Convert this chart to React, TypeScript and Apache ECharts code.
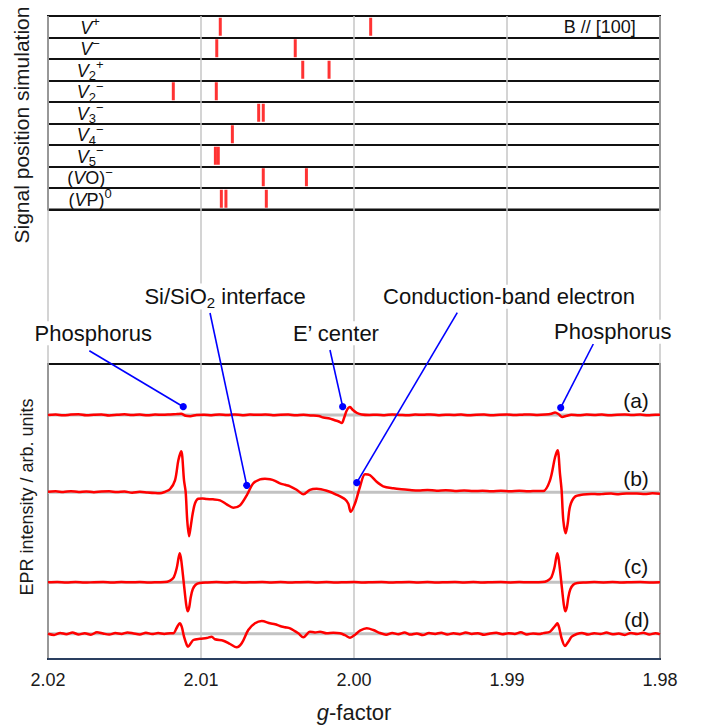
import React, { useEffect, useRef } from 'react';
import * as echarts from 'echarts';

const FONT = '"Liberation Sans", Arial, Helvetica, sans-serif';

// ---------- Top panel: simulated signal positions ----------
const rowLabels = ['V+', 'V−', 'V2+', 'V2−', 'V3−', 'V4−', 'V5−', '(VO)−', '(VP)0'];
// label pieces: [text, kind] with kind v = italic, n = normal, sub, sup
const rowTokens: string[][][] = [
  [['V', 'v'], ['+', 'sup']],
  [['V', 'v'], ['−', 'sup']],
  [['V', 'v'], ['2', 'sub'], ['+', 'sup']],
  [['V', 'v'], ['2', 'sub'], ['−', 'sup']],
  [['V', 'v'], ['3', 'sub'], ['−', 'sup']],
  [['V', 'v'], ['4', 'sub'], ['−', 'sup']],
  [['V', 'v'], ['5', 'sub'], ['−', 'sup']],
  [['(', 'n'], ['V', 'v'], ['O)', 'n'], ['−', 'sup']],
  [['(', 'n'], ['V', 'v'], ['P)', 'n'], ['0', 'sup']],
];
const signalPositions: number[][] = [
  [2.00874, 1.99891],
  [2.00897, 2.00384],
  [2.00335, 2.00163],
  [2.01181, 2.009],
  [2.00623, 2.00593],
  [2.00795],
  [2.00906, 2.00887],
  [2.00593, 2.00311],
  [2.00867, 2.00837, 2.00573],
];
const fieldNote = 'B // [100]';

// ---------- Bottom panel: EPR spectra (g, intensity relative to baseline) ----------
const xTicks = [1.98, 1.99, 2.0, 2.01, 2.02];
const traceNames = ['(a)', '(b)', '(c)', '(d)'];
const traceOffsets = [244, 166.7, 76.7, 25.3];

const traceA: number[][] = [
  [2.02, 0], [2.0195, 0.5], [2.019, -0.3], [2.0185, 0.4], [2.018, 0.8], [2.0175, -0.2], [2.017, 0.3], [2.0165, 0.6],
  [2.016, -0.4], [2.0155, 0.2], [2.015, 0.7], [2.0145, 0], [2.014, 0.4], [2.0135, -0.3], [2.013, 0.5], [2.0125, 0.2],
  [2.012, 0.6], [2.0116, 0.9], [2.0113, 1.2], [2.011, -0.8], [2.0107, -1.2], [2.0103, 0], [2.0098, 0.3], [2.0093, -0.2],
  [2.0088, 0.5], [2.0083, 0.1], [2.0078, 0.6], [2.0073, -0.3], [2.0068, 0.4], [2.0063, 0.2], [2.0058, 0.5], [2.0053, -0.2],
  [2.0048, 0.3], [2.0043, 0.4], [2.0038, -0.3], [2.0033, 0.2], [2.0028, -0.4], [2.0023, -1.0], [2.002, -2.5], [2.0016, -3.5],
  [2.0013, -5], [2.001, -6.5], [2.0008, -8], [2.00065, -3], [2.00046, 5], [2.00026, 8], [2.00007, 5], [1.9998, 2],
  [1.9995, 0.5], [1.999, 0], [1.9985, 0.3], [1.998, -0.2], [1.9975, 0.5], [1.997, 0.1], [1.9965, -0.3], [1.996, 0.4],
  [1.9955, 0.2], [1.995, 0.6], [1.9945, -0.2], [1.994, 0.3], [1.9935, 0], [1.993, 0.5], [1.9925, -0.3], [1.992, 0.2],
  [1.9915, 0.4], [1.991, -0.2], [1.9905, 0.3], [1.99, 0.5], [1.9895, -0.1], [1.989, 0.3], [1.9885, 0.6], [1.988, 0],
  [1.9875, 0.4], [1.9871, 1.2], [1.98686, 2.5], [1.9866, 0.5], [1.9864, -2.0], [1.9861, -0.8], [1.9858, 0.2], [1.9853, -0.2],
  [1.9848, 0.4], [1.9843, 0.1], [1.9838, 0.5], [1.9833, -0.3], [1.9828, 0.3], [1.9823, 0.6], [1.9818, 0], [1.9813, 0.4],
  [1.9808, -0.2], [1.9803, 0.3], [1.98, 0.2],
];

const traceB: number[][] = [
  [2.02, 0.6], [2.0195, 1.0], [2.019, 0.3], [2.0185, 1.1], [2.018, 0.4], [2.0175, 0.9], [2.017, 0.1], [2.0165, 0.8],
  [2.016, 1.0], [2.0155, 0.3], [2.015, 0.7], [2.0145, -0.4], [2.014, 0.5], [2.0135, -0.2], [2.013, -0.8], [2.01268, -1],
  [2.01235, 0.5], [2.01203, 3], [2.0117, 12], [2.01148, 32], [2.01129, 41], [2.01111, 12], [2.011, 0], [2.0109, -28],
  [2.01078, -44], [2.01067, -34], [2.01054, -21], [2.01039, -11], [2.01018, -6.5], [2.0099, -6.2], [2.00963, -6.8],
  [2.00922, -7], [2.00876, -8], [2.00832, -12], [2.00789, -15.5], [2.00745, -13], [2.00701, -3], [2.00658, 9],
  [2.00614, 13], [2.00582, 13.5], [2.00549, 13], [2.00516, 11.5], [2.00484, 9], [2.00451, 7.5], [2.00418, 6],
  [2.00375, 2.5], [2.00331, -2], [2.00288, 2.5], [2.00244, 3.5], [2.00178, 1.5], [2.00113, -2.5], [2.00059, -7],
  [2.00037, -11.5], [2.00022, -19.5], [1.99993, -11], [1.99961, 5.5], [1.99928, 18], [1.99895, 17], [1.99852, 10.5],
  [1.99809, 6], [1.99743, 4], [1.9969, 3.0], [1.99634, 2.3], [1.9958, 1.8], [1.9952, 2.4], [1.9946, 1.6], [1.994, 2.0],
  [1.9934, 1.4], [1.9928, 1.9], [1.9922, 1.2], [1.9916, 1.6], [1.991, 1.0], [1.9904, 1.5], [1.9898, 1.1], [1.9892, 1.6],
  [1.9886, 1.0], [1.988, 1.4], [1.98763, 1.3], [1.98719, 12], [1.98686, 35], [1.98669, 42], [1.98654, 19], [1.98643, 2],
  [1.98632, -28], [1.98616, -41], [1.98603, -31], [1.98588, -14], [1.98556, -4.5], [1.98501, -2.2], [1.9845, -1.6],
  [1.984, -2.0], [1.98371, -1.7], [1.9832, -1.3], [1.9827, -1.9], [1.9822, -1.2], [1.98152, -1.2], [1.981, -1.7],
  [1.9805, -1.0], [1.98, -1.4],
];

const traceC: number[][] = [
  [2.02, 0], [2.0194, 0.3], [2.0188, -0.2], [2.0182, 0.2], [2.0176, -0.3], [2.017, 0.1], [2.0164, 0.3], [2.0158, -0.2],
  [2.0152, 0.2], [2.0146, 0], [2.014, 0.3], [2.0134, -0.2], [2.0128, 0.1], [2.01237, 0.2], [2.01205, 1.5], [2.01178, 5],
  [2.01159, 14], [2.01146, 25], [2.01139, 29], [2.01129, 22], [2.01113, 0], [2.01097, -22], [2.01087, -29], [2.01077, -25],
  [2.01067, -15], [2.01054, -7], [2.01035, -2.5], [2.01008, -0.8], [2.0096, -0.2], [2.009, 0.2], [2.0084, -0.1],
  [2.0078, 0.3], [2.0072, -0.2], [2.0066, 0.1], [2.006, 0.3], [2.0054, -0.1], [2.0048, 0.2], [2.0042, -0.2], [2.0036, 0.1],
  [2.003, 0.3], [2.0024, -0.1], [2.0018, 0.2], [2.0012, -0.2], [2.0006, 0.1], [2.0, 0.3], [1.9994, -0.2], [1.9988, 0.1],
  [1.9982, 0.2], [1.9976, -0.2], [1.997, 0.1], [1.9964, 0.3], [1.9958, -0.1], [1.9952, 0.2], [1.9946, -0.2], [1.994, 0.1],
  [1.9934, 0.3], [1.9928, -0.1], [1.9922, 0.2], [1.9916, -0.2], [1.991, 0.1], [1.9904, 0.2], [1.9898, -0.1], [1.9892, 0.2],
  [1.9886, 0], [1.988, 0.1], [1.98769, 0.2], [1.98737, 1.5], [1.9871, 5], [1.98691, 14], [1.98678, 25], [1.98671, 29],
  [1.98661, 22], [1.98645, 0], [1.98629, -22], [1.98619, -29], [1.98609, -25], [1.98599, -15], [1.98586, -7],
  [1.98567, -2.5], [1.9854, -0.8], [1.9849, -0.2], [1.9843, 0.2], [1.9837, -0.1], [1.9831, 0.2], [1.9825, -0.2],
  [1.9819, 0.1], [1.9813, 0.2], [1.9807, -0.1], [1.98, 0.1],
];

const traceD: number[][] = [
  [2.02, 0], [2.0196, -1.2], [2.0192, 0.8], [2.0188, -0.5], [2.0184, 1.2], [2.018, -0.8], [2.0176, 0.5], [2.0172, -1.0],
  [2.0168, 1.5], [2.0164, 0.2], [2.016, -0.9], [2.0156, 0.6], [2.0152, -0.3], [2.0148, 1.3], [2.0144, 0.2], [2.014, -0.7],
  [2.0136, 1.0], [2.0132, -0.4], [2.0128, 0.6], [2.0124, -0.2], [2.012, 0.4], [2.01181, 0.4], [2.01155, 7], [2.01139, 10.4],
  [2.01126, 7], [2.01111, -3], [2.01093, -11.3], [2.01085, -13], [2.01067, -9.6], [2.0105, -6.3], [2.01007, -5],
  [2.00963, -4.3], [2.0093, -3], [2.00909, -5.6], [2.00854, -7], [2.0081, -10.3], [2.00767, -13.6], [2.00734, -9.6],
  [2.00691, 3.7], [2.00647, 10.4], [2.00603, 12.7], [2.00549, 10.4], [2.00516, 9.5], [2.00484, 7.7], [2.00451, 6.5],
  [2.00418, 5.4], [2.00364, 0.4], [2.00331, -3.6], [2.00288, 2], [2.00255, 1.2], [2.00222, 2], [2.00178, 0.4],
  [2.00135, 1], [2.00092, 0.4], [2.00059, -1.5], [2.00026, -4], [1.99993, -1], [1.99961, 3], [1.99917, 5.4],
  [1.99874, 3.7], [1.9983, 0.7], [1.9979, -1.0], [1.9975, 0.8], [1.9971, -0.6], [1.9967, 1.2], [1.9963, -0.9],
  [1.9959, 0.3], [1.9955, -1.4], [1.9951, 0.6], [1.9947, -0.2], [1.9943, 1.0], [1.9939, -0.8], [1.9935, 0.4],
  [1.9931, -0.5], [1.9927, 1.3], [1.9923, -0.3], [1.9919, 0.5], [1.9915, -1.1], [1.9911, 0.2], [1.9907, 0.9],
  [1.9903, -0.6], [1.9899, 0.4], [1.9895, -0.2], [1.9891, 1.4], [1.9887, -0.7], [1.9883, 0.3], [1.9879, -0.4],
  [1.98763, 0.6], [1.98719, 2], [1.98686, 7.7], [1.98671, 10.4], [1.98658, 5.4], [1.98643, -4.6], [1.98621, -12.3],
  [1.98599, -8], [1.98577, -3], [1.98544, -0.3], [1.9851, 0.8], [1.9847, -0.9], [1.9843, 0.5], [1.9839, -0.4],
  [1.9835, 1.1], [1.9831, -0.6], [1.9827, 0.2], [1.9823, -1.2], [1.9819, 0.7], [1.9815, -0.3], [1.9811, 1.0],
  [1.9807, -0.8], [1.9803, 0.4], [1.98, -0.5],
];

const traces = [traceA, traceB, traceC, traceD];

// annotation texts
const annotationTexts = ['Phosphorus', 'Si/SiO2 interface', 'E’ center', 'Conduction-band electron', 'Phosphorus'];
// anchors in data units: [text g, text v, line start g, line start v, dot g, dot v]
const annotationAnchors = [
  [2.01704, 325.7, 2.0173, 308.3, 2.01116, 252.3],
  [2.00843, 362.5, 2.00941, 346, 2.00701, 173.7],
  [2.00118, 325.7, 2.00157, 309, 2.00074, 252.3],
  [1.98987, 362.3, 1.99325, 346.3, 1.99982, 176.3],
  [1.98309, 327.3, 1.98436, 315, 1.98649, 251.3],
];
const traceLabelAnchors = [
  [1.98157, 258.2],
  [1.98157, 180.7],
  [1.98157, 92.3],
  [1.98152, 39.8],
];
const rowLabelG = 2.01725;
const fieldNoteG = 1.98394;

const X_MIN = 1.98;
const X_MAX = 2.02;
const Y_MAX = 295;

const tokenFont: Record<string, string> = {
  v: `italic 18px ${FONT}`,
  n: `18px ${FONT}`,
  sub: `13px ${FONT}`,
  sup: `13px ${FONT}`,
};
const tokenDy: Record<string, number> = { v: 0, n: 0, sub: 5, sup: -6 };

let measureCtx: CanvasRenderingContext2D | null = null;
function measure(text: string, font: string): number {
  if (!measureCtx) measureCtx = document.createElement('canvas').getContext('2d');
  if (!measureCtx) return text.length * 10;
  measureCtx.font = font;
  return measureCtx.measureText(text).width;
}

export default function App() {
  const ref = useRef<HTMLDivElement>(null);
  useEffect(() => {
    document.body.style.margin = '0';
    if (!ref.current) return;
    const chart = echarts.init(ref.current, undefined, { renderer: 'svg' });

    const baseX = {
      type: 'value',
      min: X_MIN,
      max: X_MAX,
      inverse: true,
      interval: 0.01,
    };

    const series: any[] = [];

    // simulated signal positions
    series.push({
      type: 'scatter',
      xAxisIndex: 1,
      yAxisIndex: 1,
      symbol: 'rect',
      symbolSize: [3, 18],
      itemStyle: { color: '#ff0000' },
      data: signalPositions.flatMap((arr, i) => arr.map((g) => [g, i])),
      z: 5,
    });
    // row labels
    series.push({
      type: 'custom',
      xAxisIndex: 1,
      yAxisIndex: 1,
      clip: false,
      data: rowLabels.map((_n, i) => [rowLabelG, i]),
      renderItem: (params: any, api: any) => {
        const p = api.coord([api.value(0), api.value(1)]);
        const toks = rowTokens[params.dataIndex];
        const widths = toks.map((t) => measure(t[0], tokenFont[t[1]]));
        const total = widths.reduce((s, w) => s + w, 0);
        let x = p[0] - total / 2;
        const children = toks.map((t, k) => {
          const el = {
            type: 'text',
            x,
            y: p[1] + 1 + tokenDy[t[1]],
            style: { text: t[0], font: tokenFont[t[1]], fill: '#111', align: 'left', verticalAlign: 'middle' },
          };
          x += widths[k];
          return el;
        });
        return { type: 'group', children };
      },
      z: 6,
    });
    // "B // [100]" note
    series.push({
      type: 'custom',
      xAxisIndex: 1,
      yAxisIndex: 1,
      clip: false,
      data: [[fieldNoteG, 0]],
      renderItem: (params: any, api: any) => {
        const p = api.coord([api.value(0), api.value(1)]);
        return {
          type: 'text',
          x: p[0],
          y: p[1],
          style: { text: fieldNote, font: `18px ${FONT}`, fill: '#111', align: 'center', verticalAlign: 'middle' },
        };
      },
      z: 6,
    });

    // baselines
    traceOffsets.forEach((off) => {
      series.push({
        type: 'line',
        xAxisIndex: 2,
        yAxisIndex: 2,
        data: [[X_MAX, off], [X_MIN, off]],
        symbol: 'none',
        lineStyle: { color: '#c2c2c2', width: 3 },
        z: 1,
        silent: true,
      });
    });
    // traces
    traces.forEach((tr, i) => {
      series.push({
        type: 'line',
        name: traceNames[i],
        xAxisIndex: 2,
        yAxisIndex: 2,
        data: tr.map((p) => [p[0], p[1] + traceOffsets[i]]),
        symbol: 'none',
        smooth: 0.3,
        lineStyle: { color: '#ff0000', width: 2.5 },
        z: 3,
      });
    });
    // trace labels
    series.push({
      type: 'custom',
      xAxisIndex: 2,
      yAxisIndex: 2,
      clip: false,
      data: traceLabelAnchors,
      renderItem: (params: any, api: any) => {
        const p = api.coord([api.value(0), api.value(1)]);
        return {
          type: 'text',
          x: p[0],
          y: p[1],
          style: {
            text: traceNames[params.dataIndex],
            font: `21px ${FONT}`,
            fill: '#111',
            align: 'center',
            verticalAlign: 'middle',
          },
        };
      },
      z: 6,
    });
    // annotations
    series.push({
      type: 'custom',
      xAxisIndex: 2,
      yAxisIndex: 2,
      clip: false,
      data: annotationAnchors.map((a) => [a[4], a[5]]),
      renderItem: (params: any, api: any) => {
        const a = annotationAnchors[params.dataIndex];
        const txt = annotationTexts[params.dataIndex];
        const t = api.coord([a[0], a[1]]);
        const s = api.coord([a[2], a[3]]);
        const d = api.coord([a[4], a[5]]);
        const isSi = txt.indexOf('SiO2') >= 0;
        return {
          type: 'group',
          children: [
            {
              type: 'line',
              shape: { x1: s[0], y1: s[1], x2: d[0], y2: d[1] },
              style: { stroke: '#0000ff', lineWidth: 1.6 },
            },
            {
              type: 'circle',
              shape: { cx: d[0], cy: d[1], r: 3.6 },
              style: { fill: '#0000ff' },
            },
            {
              type: 'text',
              x: t[0],
              y: t[1],
              style: isSi
                ? {
                    text: '{n|Si/SiO}{s|2}{n| interface}',
                    rich: {
                      n: { font: `22px ${FONT}`, fill: '#111', lineHeight: 26 },
                      s: { font: `15px ${FONT}`, fill: '#111', lineHeight: 15, verticalAlign: 'bottom' },
                    },
                    align: 'center',
                    verticalAlign: 'middle',
                    backgroundColor: '#fff',
                    padding: [0, 3],
                  }
                : {
                    text: txt,
                    font: `22px ${FONT}`,
                    fill: '#111',
                    align: 'center',
                    verticalAlign: 'middle',
                    backgroundColor: '#fff',
                    padding: [1, 3],
                  },
            },
          ],
        };
      },
      z: 10,
    });

    const option: any = {
      animation: false,
      backgroundColor: '#fff',
      grid: [
        { left: 48, right: 41, top: 16, bottom: 69 },
        { left: 48, right: 41, top: 16, bottom: 518.5, show: true, borderColor: '#111', borderWidth: 2, backgroundColor: 'transparent' },
        { left: 48, right: 41, top: 364, bottom: 69, show: true, borderColor: '#111', borderWidth: 2, backgroundColor: 'transparent' },
      ],
      xAxis: [
        {
          ...baseX,
          gridIndex: 0,
          axisLine: { show: false },
          axisTick: { show: false },
          axisLabel: {
            margin: 13,
            fontSize: 18,
            fontFamily: FONT,
            color: '#1a1a1a',
            formatter: (v: number) => v.toFixed(2),
            customValues: xTicks,
          },
          splitLine: { show: true, lineStyle: { color: '#c6c6c6', width: 1.5 } },
          name: '{i|g}-factor',
          nameLocation: 'middle',
          nameGap: 43,
          nameTextStyle: {
            fontSize: 22,
            fontFamily: FONT,
            color: '#1a1a1a',
            rich: { i: { fontSize: 22, fontFamily: FONT, fontStyle: 'italic', color: '#1a1a1a' } },
          },
        },
        {
          ...baseX,
          gridIndex: 1,
          axisLine: { show: false },
          axisTick: { show: false },
          axisLabel: { show: false },
          splitLine: { show: false },
        },
        {
          ...baseX,
          gridIndex: 2,
          axisLine: { show: true, lineStyle: { color: '#2a3f60', width: 2 } },
          axisTick: { show: false },
          axisLabel: { show: false },
          splitLine: { show: false },
          z: 8,
        },
      ],
      yAxis: [
        { type: 'value', gridIndex: 0, min: 0, max: 1, show: false },
        {
          type: 'category',
          gridIndex: 1,
          data: rowLabels,
          inverse: true,
          axisLine: { show: false },
          axisTick: { show: false },
          axisLabel: { show: false },
          splitLine: { show: true, interval: 0, lineStyle: { color: '#111', width: 2 } },
        },
        { type: 'value', gridIndex: 2, min: 0, max: Y_MAX, show: false },
      ],
      graphic: [
        {
          type: 'text',
          x: 21,
          y: 125,
          rotation: Math.PI / 2,
          style: {
            text: 'Signal position simulation',
            font: `21px ${FONT}`,
            fill: '#1a1a1a',
            align: 'center',
            verticalAlign: 'middle',
          },
        },
        {
          type: 'text',
          x: 26.5,
          y: 497,
          rotation: Math.PI / 2,
          style: {
            text: 'EPR intensity / arb. units',
            font: `18px ${FONT}`,
            fill: '#1a1a1a',
            align: 'center',
            verticalAlign: 'middle',
          },
        },
      ],
      series,
    };
    chart.setOption(option);
    return () => chart.dispose();
  }, []);
  return <div ref={ref} style={{ width: 701, height: 728 }} />;
}
